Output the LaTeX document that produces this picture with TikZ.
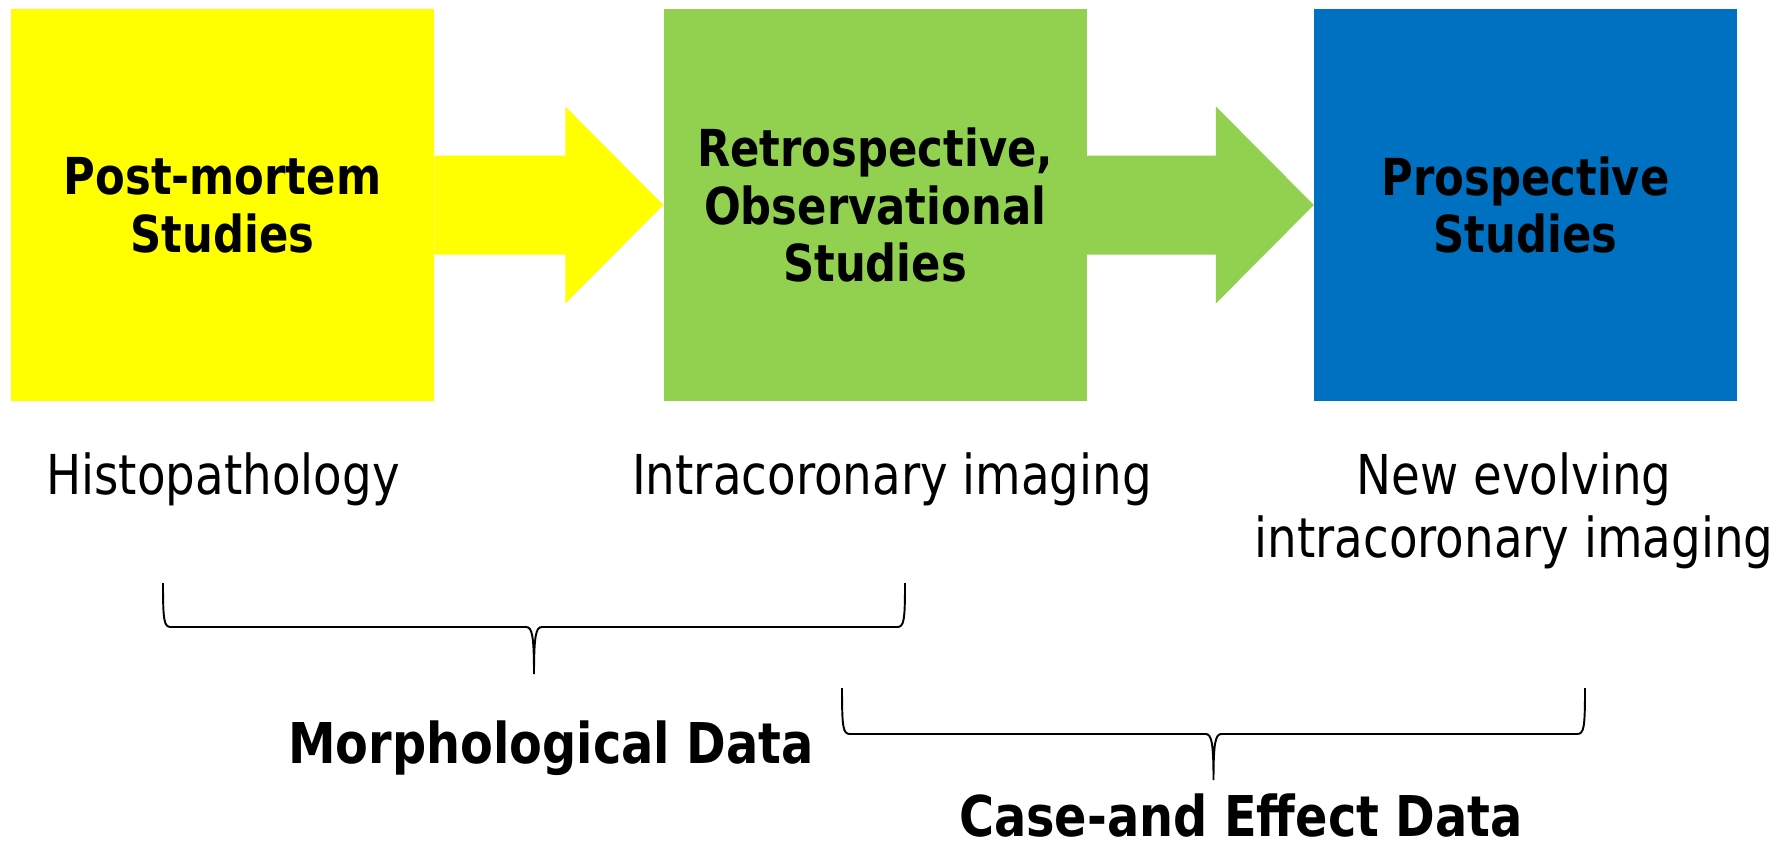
\documentclass[tikz,border=0pt]{standalone}
\usepackage{fontspec}
\setmainfont{DejaVu Sans}[FakeStretch=0.85]
\usepackage{tikz}
\usetikzlibrary{positioning}
\definecolor{postcol}{HTML}{FFFF00}
\definecolor{retrocol}{HTML}{92D050}
\definecolor{prospcol}{HTML}{0070C0}
\tikzset{>=latex}

% curly bracket: left x, right x, top of legs, bar, tip
\newcommand{\databrace}[5]{%
  \draw[bracestyle] (#1,#3) .. controls (#1,#4-6) and (#1+1,#4) .. (#1+8,#4)
    -- ({(#1+#2)/2-8},#4) .. controls ({(#1+#2)/2-2},#4) and ({(#1+#2)/2},#4+8) .. ({(#1+#2)/2},#5)
    .. controls ({(#1+#2)/2},#4+8) and ({(#1+#2)/2+2},#4) .. ({(#1+#2)/2+8},#4)
    -- (#2-8,#4) .. controls (#2-1,#4) and (#2,#4-6) .. (#2,#3);}

\begin{document}
\begin{tikzpicture}[x=0.02cm, y=-0.02cm,
  box/.style={minimum width=8.46cm, minimum height=7.84cm, inner sep=0pt,
    align=center, font=\fontsize{29}{33}\selectfont\bfseries},
  lbl/.style={inner sep=0pt, align=center, font=\fontsize{31.3}{36}\selectfont},
  datalbl/.style={inner sep=0pt, font=\fontsize{32}{36}\selectfont\bfseries},
  bracestyle/.style={line width=1.1pt}]

\useasboundingbox (0,0) rectangle (1785,846);

% Study boxes
\node[box, fill=postcol] (post) at (222.5,205) {Post-mortem\\Studies};
\node[box, fill=retrocol, right=4.58cm of post] (retro) {Retrospective,\\Observational\\Studies};
\node[box, fill=prospcol, right=4.54cm of retro] (prosp) {Prospective\\Studies};

% Block arrows
\fill[postcol] (post.east) ++(0,-49.5) -- ++(131,0) -- ++(0,-49) -- (retro.west)
  -- ++(-98,98.5) -- ++(0,-49) -- ++(-131,0) -- cycle;
\fill[retrocol] (retro.east) ++(0,-49.5) -- ++(129,0) -- ++(0,-49) -- (prosp.west)
  -- ++(-98,98.5) -- ++(0,-49) -- ++(-129,0) -- cycle;

% Methods
\node[lbl] (histo) at (223,479) {Histopathology};
\node[lbl] (intra) at (892,479) {Intracoronary imaging};
\node[lbl] (newimg) at (1514,511) {New evolving\\intracoronary imaging};

% Brackets
\databrace{163}{905}{583}{627}{674}
\databrace{842}{1585}{688}{734}{780}

% Kind of data
\node[datalbl] (morph) at (551,748) {Morphological Data};
\node[datalbl] (cause) at (1241,816) {Case-and Effect Data};

\end{tikzpicture}
\end{document}
